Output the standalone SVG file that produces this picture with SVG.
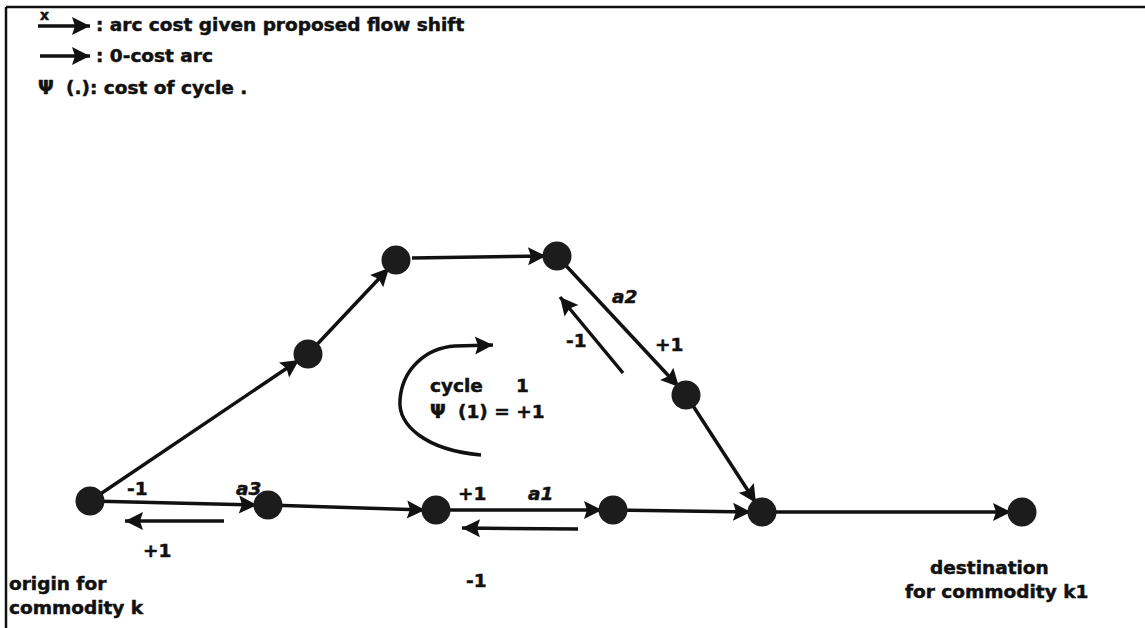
<svg xmlns="http://www.w3.org/2000/svg" width="1145" height="628" viewBox="0 0 1145 628">
<style>
.t{font-family:"DejaVu Sans","Liberation Sans",sans-serif;font-weight:bold;font-size:18.5px;fill:#111;stroke:#111;stroke-width:0.5}
.i{font-style:italic}
.e{stroke:#111;stroke-width:3.5;fill:none;marker-end:url(#ah)}
.n{fill:#1c1c1c}
</style>
<defs>
<marker id="ah" markerUnits="userSpaceOnUse" markerWidth="22" markerHeight="22" viewBox="0 0 22 22" refX="20" refY="11" orient="auto">
<path d="M2 2 L20 11 L2 20 L5 11 Z" fill="#111"/>
</marker>
</defs>
<rect width="1145" height="628" fill="#fff"/>
<g id="frame" stroke="#111" stroke-width="2.5">
<line x1="6" y1="7" x2="1145" y2="7"/>
<line x1="6" y1="7" x2="6" y2="628"/>
</g>
<g id="legend">
<line class="e" x1="38" y1="26" x2="90" y2="26"/>
<text class="t" x="40" y="20" style="font-size:14px">x</text>
<text class="t" x="96" y="31">: arc cost given proposed flow shift</text>
<line class="e" x1="40" y1="56" x2="90" y2="56"/>
<text class="t" x="96" y="62">: 0-cost arc</text>
<text class="t" x="38" y="94">Ψ</text>
<text class="t" x="66" y="94">(.): cost of cycle .</text>
</g>
<g id="connectors">
<line class="e" x1="90" y1="501" x2="257" y2="505"/>
<line class="e" x1="268" y1="505" x2="425" y2="510"/>
<line class="e" x1="436" y1="510" x2="602" y2="510"/>
<line class="e" x1="613" y1="510" x2="751" y2="512"/>
<line class="e" x1="762" y1="512" x2="1011" y2="512"/>
<line class="e" x1="90" y1="501" x2="299" y2="360"/>
<line class="e" x1="308" y1="354" x2="389" y2="268"/>
<line class="e" x1="412" y1="258" x2="546" y2="256"/>
<line class="e" x1="557" y1="256" x2="679" y2="387"/>
<line class="e" x1="686" y1="395" x2="756" y2="503"/>
<line class="e" x1="224" y1="521" x2="125" y2="521"/>
<line class="e" x1="578" y1="529" x2="462" y2="528"/>
<line class="e" x1="623" y1="373" x2="560" y2="297"/>
<path class="e" d="M481 455 C425 450 398 425 400 400 C402 370 425 348 455 346 L493 345"/>
</g>
<g id="node-origin"><circle class="n" cx="90" cy="501" r="14.5"/></g>
<g id="node-a3"><circle class="n" cx="268" cy="505" r="14.5"/></g>
<g id="node-mid1"><circle class="n" cx="436" cy="510" r="14.5"/></g>
<g id="node-a1"><circle class="n" cx="613" cy="510" r="14.5"/></g>
<g id="node-join"><circle class="n" cx="762" cy="512" r="14.5"/></g>
<g id="node-dest"><circle class="n" cx="1022" cy="512" r="14.5"/></g>
<g id="node-up1"><circle class="n" cx="308" cy="354" r="14.5"/></g>
<g id="node-up2"><circle class="n" cx="396" cy="260" r="14.5"/></g>
<g id="node-up3"><circle class="n" cx="557" cy="256" r="14.5"/></g>
<g id="node-a2"><circle class="n" cx="686" cy="395" r="14.5"/></g>
<g id="labels">
<text class="t" x="127" y="495">-1</text>
<text class="t i" x="236" y="495">a3</text>
<text class="t" x="143" y="557">+1</text>
<text class="t" x="9" y="590">origin for</text>
<text class="t" x="9" y="614">commodity k</text>
<text class="t" x="458" y="500">+1</text>
<text class="t i" x="528" y="500">a1</text>
<text class="t" x="466" y="587">-1</text>
<text class="t i" x="612" y="303">a2</text>
<text class="t" x="655" y="351">+1</text>
<text class="t" x="566" y="347">-1</text>
<text class="t" x="430" y="392">cycle</text>
<text class="t" x="516" y="392">1</text>
<text class="t" x="430" y="418">Ψ</text>
<text class="t" x="458" y="418">(1) = +1</text>
<text class="t" x="930" y="574">destination</text>
<text class="t" x="905" y="598">for commodity k1</text>
</g>
</svg>
